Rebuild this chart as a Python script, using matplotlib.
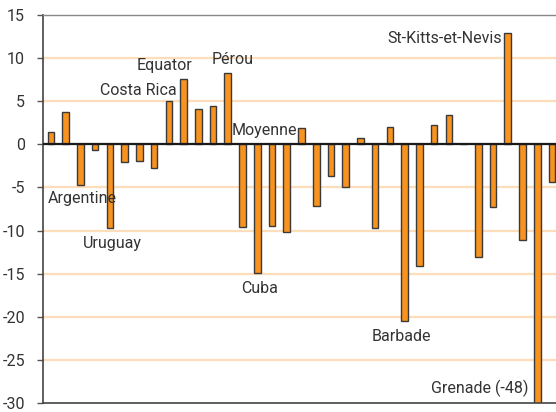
import matplotlib
matplotlib.use("Agg")
import matplotlib.pyplot as plt
import numpy as np

values = [1.45, 3.7, -4.75, -0.65, -9.7, -2.05, -1.9, -2.8, 4.97, 7.55,
          4.08, 4.5, 8.3, -9.55, -14.9, -9.45, -10.2, 1.88, -7.1, -3.65,
          -4.97, 0.72, -9.75, 2.0, -20.5, -14.1, 2.2, 3.4, 0.0, -13.1,
          -7.3, 12.9, -11.1, -48.0, -4.4]

labels = ["Argentine", "Uruguay", "Costa Rica", "Equator", "Pérou", "Moyenne",
          "Cuba", "St-Kitts-et-Nevis", "Barbade", "Grenade (-48)"]
label_x = [2.1, 4.2, 5.9, 7.73, 12.35, 14.5, 14.18, 26.73, 23.81, 29.1]
label_y = [-6.3, -11.5, 6.3, 9.1, 9.8, 1.57, -16.76, 12.24, -22.33, -28.25]

yticks = [15, 10, 5, 0, -5, -10, -15, -20, -25, -30]

plt.rcParams['font.family'] = ['Roboto', 'DejaVu Sans']

fig = plt.figure(figsize=(5.56, 4.12), dpi=100)
ax = fig.add_axes([0.0773, 0.0218, 0.9227, 0.9418])

x = np.arange(len(values))
ax.bar(x, values, width=0.45, color='#F7931E', edgecolor='#3a3a3a', linewidth=1.0, zorder=2)
ax.axhline(0, color='#1a1a1a', linewidth=1.6, zorder=3)

for yv in yticks:
    if yv not in (15, 0, -30):
        ax.axhline(yv, color='#FDDDBA', linewidth=1.6, zorder=1)

ax.set_xlim(-0.54, 34.27)
ax.set_ylim(-30, 15)
ax.set_yticks(yticks)
ax.set_yticklabels([str(t) for t in yticks])
ax.set_xticks([])
ax.tick_params(axis='y', direction='out', length=4, width=1, color='#555555',
               labelsize=11.5, labelcolor='#333333', pad=9)

for s in ['left', 'bottom']:
    ax.spines[s].set_color('#444444')
    ax.spines[s].set_linewidth(1.2)
ax.spines['top'].set_color('#888888')
ax.spines['top'].set_linewidth(1.0)
ax.spines['right'].set_visible(False)

for t, lx, ly in zip(labels, label_x, label_y):
    ax.text(lx, ly, t, ha='center', va='center', fontsize=11.5, color='#333333', zorder=4)

fig.savefig("out.png", dpi=100)
